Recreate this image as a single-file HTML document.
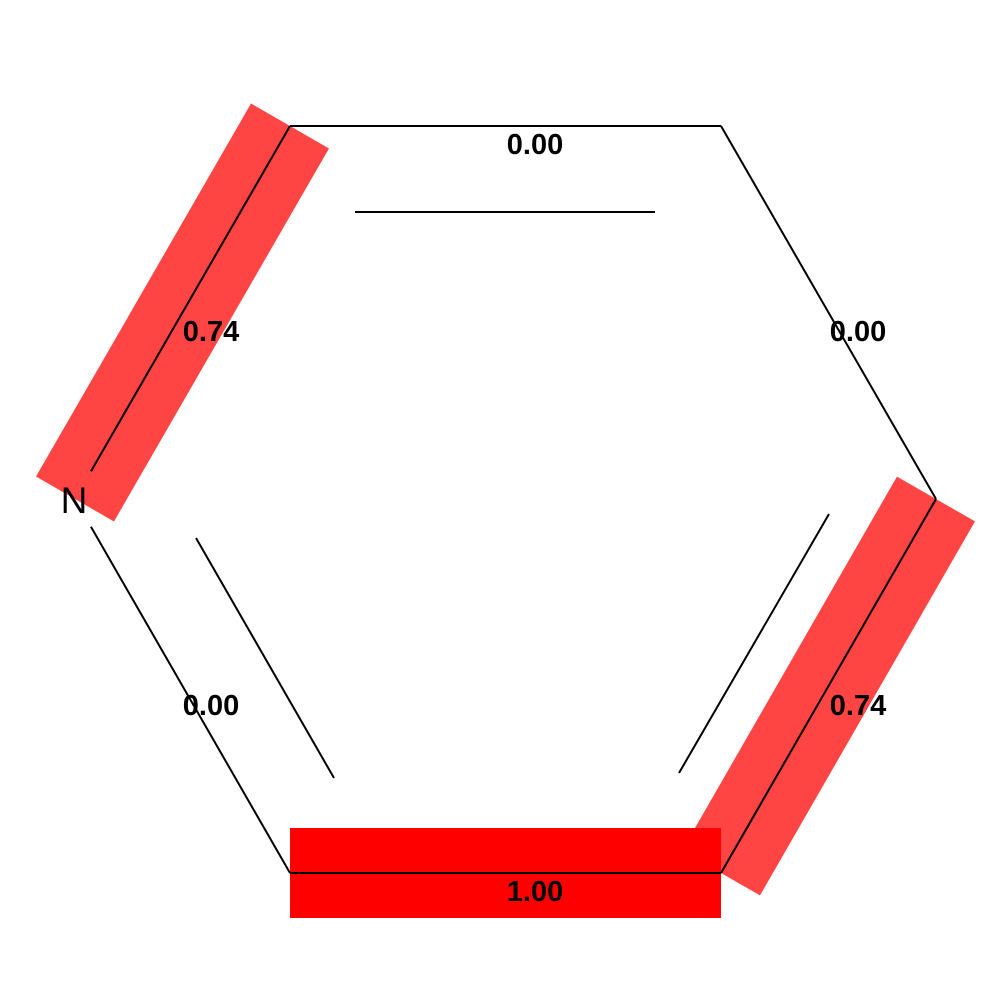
<!DOCTYPE html>
<html><head><meta charset="utf-8"><style>html,body{margin:0;padding:0;background:#fff}svg{display:block}</style></head>
<body>
<svg id="mol" width="1000" height="1000" viewBox="0 0 1000 1000"></svg>
<script>
const atomLabels = ["C","C","C","C","C","N"];
const atomX = [290,721,936,721,290,75];
const atomY = [126,126,499,873,873,499];
const bondFrom = [0,1,2,3,4,5];
const bondTo = [1,2,3,4,5,0];
const bondWeights = [0.00,0.00,0.74,1.00,0.00,0.74];
const bondLabels = ["0.00","0.00","0.74","1.00","0.00","0.74"];
const labelX = [535,858,858,535,211,211];
const labelY = [144,331,705,891,705,331];
const innerBonds = [[355,212,655,212],[829,514,679,773],[196,538,334,778]];
const NS="http://www.w3.org/2000/svg";
const svg=document.getElementById('mol');
function mk(t,a){const e=document.createElementNS(NS,t);for(const k in a)e.setAttribute(k,a[k]);return e;}
const hl=mk('g',{});svg.appendChild(hl);
bondWeights.forEach((w,i)=>{
  if(w<=0)return;
  const x1=atomX[bondFrom[i]],y1=atomY[bondFrom[i]],x2=atomX[bondTo[i]],y2=atomY[bondTo[i]];
  const dx=x2-x1,dy=y2-y1,L=Math.hypot(dx,dy),nx=-dy/L*45,ny=dx/L*45;
  const col=w>=1?'#ff0000':'#ff4444';
  const p=mk('polygon',{points:`${x1+nx},${y1+ny} ${x2+nx},${y2+ny} ${x2-nx},${y2-ny} ${x1-nx},${y1-ny}`,fill:col});
  
  
  hl.appendChild(p);
});
bondFrom.forEach((a,i)=>{
  const b=bondTo[i];
  let x1=atomX[a],y1=atomY[a],x2=atomX[b],y2=atomY[b];
  const dx=x2-x1,dy=y2-y1,L=Math.hypot(dx,dy);
  if(atomLabels[a]==='N'){x1+=dx/L*32;y1+=dy/L*32;}
  if(atomLabels[b]==='N'){x2-=dx/L*32;y2-=dy/L*32;}
  const l=mk('line',{x1,y1,x2,y2,stroke:'#000','stroke-width':2});
  
  
  svg.appendChild(l);
});
innerBonds.forEach((c,i)=>{
  const l=mk('line',{x1:c[0],y1:c[1],x2:c[2],y2:c[3],stroke:'#000','stroke-width':2});
  
  
  svg.appendChild(l);
});
atomLabels.forEach((s,i)=>{
  if(s==='C')return;
  const t=mk('text',{x:atomX[i]-1,y:atomY[i]+14,'text-anchor':'middle','font-family':'Liberation Sans, sans-serif','font-size':37,fill:'#000'});
  t.textContent=s;
  
  
  svg.appendChild(t);
});
bondLabels.forEach((s,i)=>{
  const t=mk('text',{x:labelX[i],y:labelY[i]+10,'text-anchor':'middle','font-family':'Liberation Sans, sans-serif','font-size':29,'font-weight':'bold',fill:'#000'});
  t.textContent=s;
  
  
  svg.appendChild(t);
});
</script>
</body></html>
